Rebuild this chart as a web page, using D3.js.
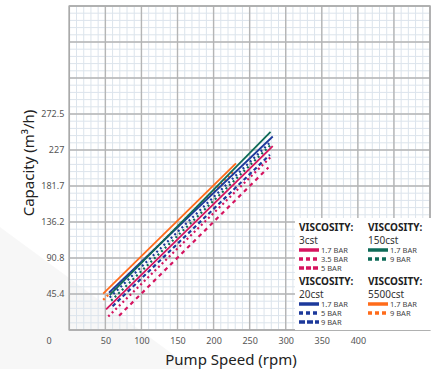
<!DOCTYPE html>
<html>
<head>
<meta charset="utf-8">
<script src="https://cdn.jsdelivr.net/npm/d3@7"></script>
<style>
body{margin:0;background:#fff;}
text{font-family:"Noto Sans","Open Sans",sans-serif;}
</style>
</head>
<body>
<svg class="chart" width="438" height="369"></svg>
<script>
// tick labels
var xTicks = [50, 100, 150, 200, 250, 300, 350, 400];
var yTicks = [45.4, 90.8, 136.2, 181.7, 227, 272.5];

// each curve: [start rpm, start capacity] -> [end rpm, end capacity]
var visc3_17  = [[51, 26], [282, 232]];
var visc3_35  = [[54, 17], [279, 218]];
var visc3_5   = [[69, 18], [276, 205]];
var visc150_17 = [[56, 44], [279, 250]];
var visc150_9  = [[58, 37], [280, 234]];
var visc20_17 = [[55, 47], [282, 244]];
var visc20_5  = [[56, 41], [280, 238]];
var visc20_9  = [[60, 30], [278, 221]];
var visc5500_17 = [[47, 46], [231, 210]];
var visc5500_9  = [[47, 38], [229, 201]];

var pink = "#d6145f", green = "#0e6b58", blue = "#1c399b", orange = "#ff6b1a";

var curves = [
	{d: visc3_35, c: pink, dash: "2,3"},
	{d: visc3_5, c: pink, dash: "4,4"},
	{d: visc20_9, c: blue, dash: "4,3"},
	{d: visc20_5, c: blue, dash: "2,3"},
	{d: visc150_9, c: green, dash: "2,3"},
	{d: visc5500_9, c: orange, dash: "2,3"},
	{d: visc3_17, c: pink, dash: null},
	{d: visc20_17, c: blue, dash: null},
	{d: visc150_17, c: green, dash: null},
	{d: visc5500_17, c: orange, dash: null}
];

var pLeft = 69.3, pRight = 430, pTop = 6, pBottom = 330;
var svg = d3.select(".chart");

var x = d3.scaleLinear().domain([0, 500]).range([pLeft, pRight]);
var y = d3.scaleLinear().domain([0, 408.6]).range([pBottom, pTop]);

// faint diagonal shading in the background
svg.append("polygon").attr("points", "0,227 193,369 0,369")
	.style("fill", "#000").style("opacity", 0.03);

var plot = svg.append("g");

// minor grid
var minorX = d3.range(0, 500.01, 10);
var minorY = d3.range(0, 408.61, 9.08);
plot.selectAll(".mx").data(minorX).enter().append("line")
	.attr("x1", function(d){return x(d);}).attr("x2", function(d){return x(d);})
	.attr("y1", pTop).attr("y2", pBottom)
	.style("stroke", "#dce4ec").style("stroke-width", 1);
plot.selectAll(".my").data(minorY).enter().append("line")
	.attr("y1", function(d){return y(d);}).attr("y2", function(d){return y(d);})
	.attr("x1", pLeft).attr("x2", pRight)
	.style("stroke", "#dce4ec").style("stroke-width", 1);

// major grid
var majorX = d3.range(0, 500.01, 50);
var majorY = d3.range(0, 408.61, 45.4);
plot.selectAll(".Mx").data(majorX).enter().append("line")
	.attr("x1", function(d){return x(d);}).attr("x2", function(d){return x(d);})
	.attr("y1", pTop).attr("y2", pBottom)
	.style("stroke", "#b5b5b5").style("stroke-width", 1.4);
plot.selectAll(".My").data(majorY).enter().append("line")
	.attr("y1", function(d){return y(d);}).attr("y2", function(d){return y(d);})
	.attr("x1", pLeft).attr("x2", pRight)
	.style("stroke", "#b5b5b5").style("stroke-width", 1.4);

plot.append("rect").attr("x", pLeft).attr("y", pTop)
	.attr("width", pRight - pLeft).attr("height", pBottom - pTop)
	.style("fill", "none").style("stroke", "#aaa").style("stroke-width", 1.5);

// curves
var line = d3.line().x(function(d){return x(d[0]);}).y(function(d){return y(d[1]);});
plot.selectAll(".curve").data(curves).enter().append("path")
	.attr("d", function(d){return line(d.d);})
	.style("fill", "none")
	.style("stroke", function(d){return d.c;})
	.style("stroke-width", function(d){return d.dash ? 2.2 : 1.8;})
	.style("stroke-dasharray", function(d){return d.dash;});

// axes
var xAxis = d3.axisBottom(x).tickValues(xTicks).tickSize(0).tickPadding(8);
var yAxis = d3.axisLeft(y).tickValues(yTicks).tickSize(0).tickPadding(5)
	.tickFormat(function(d){return d;});

var gx = svg.append("g").attr("transform", "translate(0," + pBottom + ")").call(xAxis);
var gy = svg.append("g").attr("transform", "translate(" + pLeft + ",0)").call(yAxis);
[gx, gy].forEach(function(g){
	g.select(".domain").remove();
	g.selectAll("text").style("font-size", "9px").style("fill", "#555")
		.style("font-family", "'Noto Sans', sans-serif");
});
svg.append("text").attr("x", 49).attr("y", 344).attr("text-anchor", "middle")
	.style("font-size", "9px").style("fill", "#555").text("0");

svg.append("text").attr("x", 231).attr("y", 365).attr("text-anchor", "middle")
	.style("font-size", "15px").style("fill", "#222").text("Pump Speed (rpm)");
svg.append("text").attr("transform", "translate(34,163) rotate(-90)")
	.attr("text-anchor", "middle").style("font-size", "15px").style("fill", "#222")
	.text("Capacity (m³/h)");

// legend
var legendBlocks = [
	{x: 299, y: 231, name: "3cst", rows: [["1.7 BAR", pink, null], ["3.5 BAR", pink, "4,3"], ["5 BAR", pink, "5,2"]]},
	{x: 368, y: 231, name: "150cst", rows: [["1.7 BAR", green, null], ["9 BAR", green, "4,3"]]},
	{x: 299, y: 285, name: "20cst", rows: [["1.7 BAR", blue, null], ["5 BAR", blue, "4,3"], ["9 BAR", blue, "6,2"]]},
	{x: 368, y: 285, name: "5500cst", rows: [["1.7 BAR", orange, null], ["9 BAR", orange, "4,3"]]}
];
var lg = svg.append("g");
lg.append("rect").attr("x", 295).attr("y", 218).attr("width", 136).attr("height", 112)
	.style("fill", "#fff");
legendBlocks.forEach(function(b){
	lg.append("text").attr("x", b.x).attr("y", b.y)
		.style("font-size", "10px").style("font-weight", "bold").style("fill", "#222")
		.text("VISCOSITY:");
	lg.append("text").attr("x", b.x).attr("y", b.y + 12.5)
		.style("font-size", "10px").style("fill", "#333").text(b.name);
	b.rows.forEach(function(r, i){
		var ry = b.y + 19 + i * 9;
		lg.append("line").attr("x1", b.x).attr("x2", b.x + 20)
			.attr("y1", ry).attr("y2", ry)
			.style("stroke", r[1]).style("stroke-width", 3.5)
			.style("stroke-dasharray", r[2]);
		lg.append("text").attr("x", b.x + 22).attr("y", ry + 3)
			.style("font-size", "7.5px").style("fill", "#444").text(r[0]);
	});
});
</script>
</body>
</html>
